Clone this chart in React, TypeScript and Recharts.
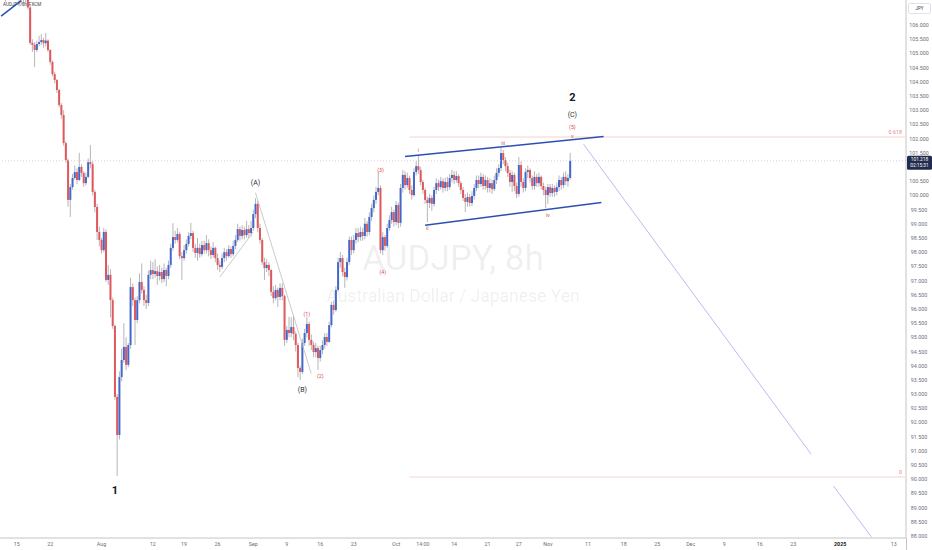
import React from "react";
import { Bar, ComposedChart, ReferenceDot, ReferenceLine, XAxis, YAxis } from "recharts";

const FONT = "Roboto, 'Liberation Sans', Arial, sans-serif";
const UP = "#4268cc";
const DOWN = "#e0575c";
const WICK = "#a3a3a3";
const CHANNEL = "#2b4fb3";
const AXIS = "#c4c4c4";

// AUDJPY 8h candles, mid July -> early November 2024 (open = previous close)
const firstOpen = 107.2;

const closes = [
  107.4, 107.2, 107.05, 107.25, 107.35, 107.1, 107.3, 107.15, 106.95, 107.05,
  106.9, 107.0, 106.62, 105.37, 105.3, 105.12, 105.33, 105.4, 105.47, 105.36,
  105.45, 105.12, 104.7, 104.27, 104.06, 103.71, 103.18, 102.83, 101.84, 101.24,
  99.84, 100.29, 100.61, 100.82, 100.54, 101.0, 100.79, 100.43, 100.65, 101.17,
  101.1, 100.12, 99.59, 98.71, 98.43, 98.07, 98.71, 97.02, 97.2, 96.31,
  95.4, 92.9, 91.56, 93.6, 94.2, 94.66, 94.03, 94.73, 96.77, 96.31,
  95.61, 96.31, 96.95, 96.67, 96.31, 96.21, 97.2, 97.37, 97.23, 97.33,
  97.16, 97.3, 97.05, 97.37, 97.16, 97.55, 98.15, 98.53, 98.43, 98.64,
  97.86, 97.79, 98.07, 98.29, 98.57, 98.67, 98.15, 97.97, 98.15, 97.93,
  98.25, 98.07, 98.32, 98.07, 97.9, 98.15, 97.79, 97.55, 97.48, 97.79,
  98.0, 97.86, 98.11, 97.93, 98.22, 98.43, 98.81, 98.57, 98.78, 98.6,
  98.81, 98.67, 98.85, 99.34, 99.7, 98.85, 98.43, 97.65, 97.44, 97.55,
  97.37, 96.6, 96.38, 96.67, 96.42, 96.74, 96.45, 94.91, 95.26, 95.15,
  95.36, 95.12, 94.73, 93.92, 93.78, 94.8, 95.15, 95.47, 94.91, 94.73,
  94.48, 94.62, 94.27, 94.55, 94.73, 95.01, 94.84, 95.43, 96.14, 95.96,
  96.67, 97.65, 97.79, 97.3, 97.12, 97.65, 98.43, 98.07, 98.43, 98.67,
  98.53, 98.71, 98.57, 99.0, 98.71, 99.24, 99.55, 99.84, 100.12, 100.26,
  98.07, 98.53, 98.22, 98.85, 99.13, 99.41, 99.06, 99.66, 99.03, 100.26,
  100.72, 100.36, 100.61, 100.19, 100.01, 100.82, 101.03, 100.89, 100.47, 100.19,
  99.84, 99.73, 99.91, 99.7, 100.19, 100.43, 100.29, 100.5, 100.26, 100.47,
  100.29, 100.61, 100.72, 100.54, 100.68, 100.43, 100.19, 99.91, 99.77, 99.94,
  99.73, 99.98, 100.26, 100.54, 100.4, 100.65, 100.33, 100.54, 100.26, 100.43,
  100.22, 100.54, 100.79, 100.96, 101.49, 101.24, 101.03, 100.79, 100.47, 100.72,
  100.33, 100.05, 101.07, 100.47, 100.26, 100.82, 100.89, 100.61, 100.33, 100.65,
  100.43, 100.65, 100.33, 100.19, 100.01, 100.29, 100.08, 100.26, 100.12, 100.29,
  100.54, 100.36, 100.65, 100.5, 100.61, 101.218,
];

const highs = [
  107.7, 107.55, 107.3, 107.45, 107.6, 107.45, 107.5, 107.4, 107.25, 107.2,
  107.15, 107.2, 107.1, 106.7, 105.5, 105.4, 105.45, 105.62, 105.68, 105.55,
  105.72, 105.5, 105.15, 104.75, 104.35, 104.1, 103.75, 103.25, 103.0, 101.9,
  101.3, 100.4, 100.75, 101.05, 100.95, 101.5, 101.1, 100.85, 100.8, 101.3,
  101.77, 101.2, 100.2, 99.7, 98.9, 98.5, 98.85, 98.8, 97.55, 97.4,
  96.4, 95.45, 93.0, 93.8, 94.6, 95.5, 95.0, 94.8, 97.1, 96.9,
  96.4, 96.45, 97.25, 97.6, 96.8, 96.5, 97.35, 97.7, 97.65, 97.75,
  97.5, 97.55, 97.45, 97.6, 97.45, 97.7, 98.3, 99.02, 98.75, 98.85,
  98.7, 98.0, 98.25, 98.45, 98.7, 99.03, 98.75, 98.3, 98.5, 98.3,
  98.4, 98.4, 98.6, 98.45, 98.2, 98.35, 98.2, 97.95, 97.7, 97.95,
  98.15, 98.1, 98.25, 98.2, 98.4, 98.6, 99.0, 98.9, 98.95, 98.9,
  99.1, 98.95, 99.1, 99.5, 99.9, 99.8, 99.0, 98.5, 97.8, 97.75,
  97.65, 97.4, 96.8, 96.85, 96.75, 96.9, 96.9, 96.5, 95.4, 95.72,
  95.7, 95.75, 95.2, 94.8, 94.0, 94.95, 95.3, 95.72, 95.55, 95.1,
  94.85, 94.8, 94.7, 94.7, 94.9, 95.15, 95.15, 95.55, 96.25, 96.3,
  96.8, 97.8, 98.0, 97.9, 97.45, 97.8, 98.55, 98.55, 98.6, 98.85,
  98.85, 98.9, 98.85, 99.2, 99.1, 99.4, 99.7, 100.0, 100.3, 100.83,
  100.35, 98.7, 98.6, 99.0, 99.3, 99.6, 99.5, 99.8, 99.75, 100.4,
  100.9, 100.85, 100.8, 100.7, 100.35, 100.95, 101.2, 101.42, 101.0, 100.55,
  100.25, 99.95, 100.05, 100.0, 100.3, 100.6, 100.55, 100.65, 100.6, 100.62,
  100.65, 100.75, 100.9, 100.85, 100.85, 100.75, 100.5, 100.3, 100.05, 100.1,
  100.05, 100.15, 100.4, 100.7, 100.7, 100.8, 100.75, 100.7, 100.65, 100.6,
  100.55, 100.7, 100.95, 101.1, 101.67, 101.6, 101.35, 101.15, 100.9, 100.85,
  100.8, 100.45, 101.35, 101.2, 100.6, 100.95, 101.05, 100.95, 100.7, 100.85,
  100.75, 100.8, 100.7, 100.45, 100.3, 100.4, 100.4, 100.4, 100.35, 100.45,
  100.7, 100.65, 100.8, 100.85, 100.75, 101.5,
];

const lows = [
  107.1, 107.0, 106.8, 106.95, 107.1, 106.95, 107.0, 106.9, 106.78, 106.7,
  106.66, 106.75, 106.55, 105.3, 105.05, 104.52, 105.05, 105.25, 105.3, 105.2,
  105.25, 105.05, 104.6, 104.2, 103.95, 103.6, 103.1, 102.7, 101.75, 101.15,
  99.6, 99.24, 100.2, 100.55, 100.4, 100.5, 100.65, 100.3, 100.35, 100.6,
  100.95, 100.0, 99.4, 98.43, 98.2, 97.95, 98.0, 96.95, 96.85, 95.7,
  95.3, 92.8, 90.12, 91.4, 93.45, 94.1, 93.85, 93.95, 94.6, 96.1,
  94.73, 95.5, 96.2, 96.55, 96.1, 96.0, 96.1, 97.05, 97.05, 97.1,
  96.85, 97.0, 96.9, 96.95, 96.8, 97.05, 97.45, 98.05, 98.3, 98.35,
  97.75, 97.02, 97.7, 97.95, 98.2, 98.45, 98.0, 97.8, 97.7, 97.8,
  97.85, 97.95, 97.95, 97.85, 97.75, 97.8, 97.65, 97.37, 97.3, 97.4,
  97.65, 97.7, 97.8, 97.8, 97.85, 98.1, 98.35, 98.4, 98.45, 98.45,
  98.5, 98.5, 98.55, 98.75, 99.2, 98.7, 98.3, 97.55, 97.02, 97.3,
  97.15, 96.45, 96.2, 96.3, 96.07, 96.3, 96.3, 94.7, 94.8, 95.0,
  95.0, 94.9, 94.5, 93.6, 93.5, 93.7, 94.7, 95.0, 94.7, 94.55,
  94.3, 94.3, 93.85, 94.15, 94.4, 94.6, 94.7, 94.8, 95.35, 95.8,
  95.9, 96.6, 97.45, 97.15, 96.74, 97.0, 97.55, 97.9, 97.95, 98.3,
  98.35, 98.4, 98.4, 98.45, 98.55, 98.6, 99.1, 99.4, 99.7, 100.0,
  97.95, 97.9, 98.05, 98.15, 98.75, 99.0, 98.9, 98.95, 98.85, 98.9,
  100.1, 100.2, 100.25, 100.05, 99.85, 99.95, 100.7, 100.75, 100.35, 100.05,
  99.7, 99.06, 99.55, 99.45, 99.6, 100.05, 100.15, 100.2, 100.1, 100.15,
  100.15, 100.2, 100.45, 100.4, 100.45, 100.3, 100.05, 99.8, 99.41, 99.6,
  99.6, 99.62, 99.85, 100.15, 100.25, 100.3, 100.2, 100.2, 100.1, 100.1,
  100.05, 100.15, 100.4, 100.65, 100.85, 101.1, 100.85, 100.65, 100.3, 100.12,
  100.15, 99.9, 99.95, 100.3, 100.1, 100.15, 100.6, 100.45, 100.2, 100.2,
  100.3, 100.3, 100.2, 100.0, 99.55, 99.7, 99.95, 99.95, 99.95, 100.0,
  100.15, 100.2, 100.25, 100.35, 100.3, 100.55,
];

// time scale keeps running into the future (empty slots)
const totalBars = 406;

const timeTickBars = [7, 22, 45, 68, 82, 97, 113, 128, 143, 158, 177, 189, 203, 218, 232, 245, 263, 279, 294, 309, 324, 340, 355, 376, 400];
const timeTickLabels = ["15", "22", "Aug", "12", "19", "26", "Sep", "9", "16", "23", "Oct", "14:00", "14", "21", "27", "Nov", "11", "18", "25", "Dec", "9", "16", "23", "2025", "13"];

const priceTicks = [
  88, 88.5, 89, 89.5, 90, 90.5, 91, 91.5, 92, 92.5, 93, 93.5, 94, 94.5, 95, 95.5, 96, 96.5,
  97, 97.5, 98, 98.5, 99, 99.5, 100, 100.5, 101.5, 102, 102.5, 103, 103.5, 104, 104.5, 105, 105.5, 106,
];

const lastPrice = 101.218;
const countdown = "02:15:31";

const fibLevels = [
  { label: "0.618", price: 102.055 },
  { label: "0", price: 90.08 },
];
const fibStartBar = 183;

const trendLines = [
  { from: [0, 106.31], to: [9, 106.86], color: CHANNEL, width: 1.5 },
  { from: [181, 101.37], to: [270, 102.07], color: CHANNEL, width: 1.5 },
  { from: [190, 98.95], to: [269, 99.75], color: CHANNEL, width: 1.5 },
  { from: [261, 101.8], to: [363, 90.88], color: "#a9a9ec", width: 0.8 },
  { from: [373, 89.76], to: [390, 87.97], color: "#a9a9ec", width: 0.8 },
  { from: [114, 100.09], to: [139, 93.72], color: "#bdbdbd", width: 0.8 },
  { from: [98, 97.12], to: [113, 98.71], color: "#bdbdbd", width: 0.8 },
];

const waveLabels = [
  { text: "1", bar: 51, price: 89.59, tone: "major" },
  { text: "2", bar: 256, price: 103.46, tone: "major" },
  { text: "(C)", bar: 256, price: 102.83, tone: "minor" },
  { text: "(5)", bar: 256, price: 102.41, tone: "sub" },
  { text: "v", bar: 256, price: 102.09, tone: "sub" },
  { text: "(A)", bar: 114, price: 100.43, tone: "minor" },
  { text: "(B)", bar: 135, price: 93.14, tone: "minor" },
  { text: "(1)", bar: 137, price: 95.82, tone: "sub" },
  { text: "(2)", bar: 143, price: 93.64, tone: "sub" },
  { text: "(3)", bar: 170, price: 100.89, tone: "sub" },
  { text: "(4)", bar: 171, price: 97.29, tone: "sub" },
  { text: "i", bar: 187, price: 101.6, tone: "sub" },
  { text: "ii", bar: 191, price: 98.85, tone: "sub" },
  { text: "iii", bar: 225, price: 101.84, tone: "sub" },
  { text: "iv", bar: 245, price: 99.31, tone: "sub" },
];

const bars = Array.from({ length: totalBars }, (_, i) => {
  if (i >= closes.length) return { i };
  const o = i === 0 ? firstOpen : closes[i - 1];
  return { i, o, h: highs[i], l: lows[i], c: closes[i], hl: [lows[i], highs[i]] };
});

function Candle(props: any) {
  const { x, y, width, height, payload } = props;
  if (!payload || payload.c == null || !Number.isFinite(y) || !height) return <g />;
  const top = Math.min(y, y + height);
  const span = Math.abs(height);
  const { o, h, l, c } = payload;
  const toY = (p: number) => top + ((h - p) / (h - l)) * span;
  const bodyTop = toY(Math.max(o, c));
  const bodyH = Math.max(1.2, toY(Math.min(o, c)) - bodyTop);
  const cx = x + width / 2;
  return (
    <g>
      <line x1={cx} x2={cx} y1={top} y2={top + span} stroke={WICK} strokeWidth={0.8} />
      <rect x={x} y={bodyTop} width={width} height={bodyH} fill={c >= o ? UP : DOWN} />
    </g>
  );
}

function TimeTick({ x, y, payload }: any) {
  const label = timeTickLabels[timeTickBars.indexOf(payload.value)] ?? "";
  const isYear = label === "2025";
  return (
    <text
      x={x}
      y={y + 6}
      textAnchor="middle"
      dominantBaseline="central"
      fontSize={5.3}
      fontFamily={FONT}
      fontWeight={isYear ? 700 : 400}
      fill={isYear ? "#131722" : "#6a6d78"}
    >
      {label}
    </text>
  );
}

function PriceTick({ x, y, payload }: any) {
  return (
    <text x={x + 13} y={y} textAnchor="middle" dominantBaseline="central" fontSize={5.3} fontFamily={FONT} fill="#6a6d78">
      {Number(payload.value).toFixed(3)}
    </text>
  );
}

function PriceTag({ viewBox }: any) {
  if (!viewBox) return null;
  const left = viewBox.x + viewBox.width + 1;
  const cy = viewBox.y;
  return (
    <g>
      <rect x={left} y={cy - 5} width={25} height={14} rx={1.5} fill="#232c4d" />
      <text x={left + 12.5} y={cy - 0.8} textAnchor="middle" dominantBaseline="central" fontSize={4.8} fontFamily={FONT} fill="#ffffff">
        {lastPrice.toFixed(3)}
      </text>
      <text x={left + 12.5} y={cy + 4.8} textAnchor="middle" dominantBaseline="central" fontSize={4.8} fontFamily={FONT} fill="#ffffff">
        {countdown}
      </text>
    </g>
  );
}

function FibLabel({ viewBox, text }: any) {
  if (!viewBox) return null;
  return (
    <text
      x={viewBox.x + viewBox.width - 3}
      y={viewBox.y - 5}
      textAnchor="end"
      dominantBaseline="central"
      fontSize={5.3}
      fontFamily={FONT}
      fill="#ee7f86"
    >
      {text}
    </text>
  );
}

const toneStyle: Record<string, { size: number; weight: number; fill: string }> = {
  major: { size: 11, weight: 700, fill: "#131722" },
  minor: { size: 7, weight: 400, fill: "#2a2e39" },
  sub: { size: 5.3, weight: 400, fill: "#e0484c" },
};

export default function App() {
  return (
    <div style={{ position: "absolute", left: 0, top: 0, width: 932, height: 550, overflow: "hidden", background: "#ffffff", fontFamily: FONT }}>
      <div style={{ position: "absolute", left: 0, top: 241, width: 906, textAlign: "center", fontSize: 35, lineHeight: 1, color: "rgba(0,0,0,0.07)" }}>
        AUDJPY, 8h
      </div>
      <div style={{ position: "absolute", left: 0, top: 287.5, width: 906, textAlign: "center", fontSize: 17.5, lineHeight: 1, color: "rgba(0,0,0,0.07)" }}>
        Australian Dollar / Japanese Yen
      </div>
      <div style={{ position: "absolute", left: 3, top: 3, fontSize: 4.6, lineHeight: 1, color: "#3a3e4a" }}>AUDJPY, 8h, FXCM</div>

      <div style={{ position: "absolute", left: 0, top: 0 }}>
        <ComposedChart width={932} height={550} data={bars} margin={{ top: 0, right: 0, bottom: 0, left: 0 }} barCategoryGap="6%">
          <XAxis
            dataKey="i"
            type="category"
            ticks={timeTickBars}
            interval={0}
            tick={<TimeTick />}
            tickLine={false}
            tickSize={0}
            tickMargin={0}
            height={12}
            axisLine={{ stroke: AXIS }}
          />
          <YAxis
            orientation="right"
            width={26}
            domain={[87.931, 106.881]}
            allowDataOverflow
            ticks={priceTicks}
            interval={0}
            tick={<PriceTick />}
            tickLine={false}
            tickSize={0}
            tickMargin={0}
            axisLine={{ stroke: AXIS }}
          />
          <Bar dataKey="hl" shape={<Candle />} isAnimationActive={false} />
          <ReferenceLine y={lastPrice} stroke="#c9ccd4" strokeWidth={0.8} strokeDasharray="1 2" label={<PriceTag />} />
          {fibLevels.map((f) => (
            <ReferenceLine
              key={f.label}
              segment={[
                { x: fibStartBar, y: f.price },
                { x: totalBars - 1, y: f.price },
              ]}
              stroke="#f5c4c6"
              strokeWidth={0.8}
              label={<FibLabel text={f.label} />}
            />
          ))}
          {trendLines.map((t, k) => (
            <ReferenceLine
              key={k}
              segment={[
                { x: t.from[0], y: t.from[1] },
                { x: t.to[0], y: t.to[1] },
              ]}
              stroke={t.color}
              strokeWidth={t.width}
            />
          ))}
          {waveLabels.map((w, k) => {
            const s = toneStyle[w.tone];
            return (
              <ReferenceDot
                key={k}
                x={w.bar}
                y={w.price}
                r={0}
                ifOverflow="visible"
                shape={(p: any) => (
                  <text
                    x={p.cx}
                    y={p.cy}
                    textAnchor="middle"
                    dominantBaseline="central"
                    fontSize={s.size}
                    fontWeight={s.weight}
                    fontFamily={FONT}
                    fill={s.fill}
                  >
                    {w.text}
                  </text>
                )}
              />
            );
          })}
        </ComposedChart>
      </div>

      <div style={{ position: "absolute", left: 908, top: 3, width: 21, height: 9, border: "1px solid #e0e3eb", borderRadius: 2, fontSize: 4.6, lineHeight: "9px", textAlign: "center", color: "#3a3e4a", background: "#fff" }}>
        JPY
      </div>
      <div style={{ position: "absolute", left: 906, top: 538, width: 1, height: 12, background: AXIS }} />
    </div>
  );
}
